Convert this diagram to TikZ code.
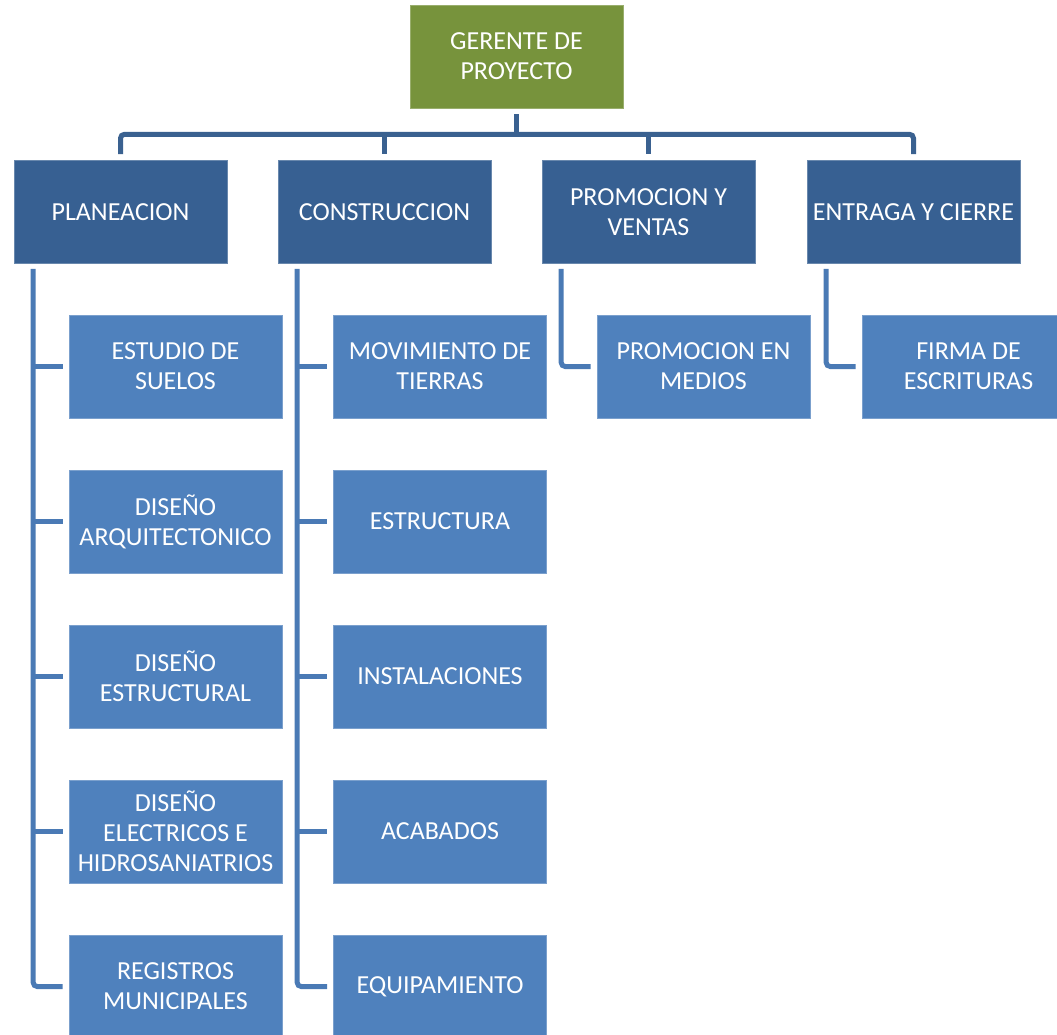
\documentclass[tikz,border=0pt]{standalone}
\usepackage{fontspec}
\setmainfont{Carlito}
\definecolor{gboss}{HTML}{77933C}
\definecolor{dblue}{HTML}{376092}
\definecolor{lblue}{HTML}{4F81BD}
\definecolor{busc}{HTML}{3A6190}
\definecolor{connc}{HTML}{4A7AB5}
\tikzset{
  boxbase/.style={rectangle, minimum width=213pt, minimum height=103pt, inner sep=2pt,
    align=center, text=white, font=\fontsize{26}{30}\selectfont},
  bossbox/.style={boxbase, fill=gboss, draw=gboss!75!white, line width=0.6pt},
  headbox/.style={boxbase, fill=dblue, draw=dblue!75!white, line width=0.6pt},
  itembox/.style={boxbase, fill=lblue, draw=lblue!75!white, line width=0.6pt},
  busline/.style={draw=busc, line width=5pt},
  connline/.style={draw=connc, line width=5pt},
}
\begin{document}
\begin{tikzpicture}[x=1pt,y=-1pt]
\clip (0,0) rectangle (1057,1035);
\fill[white] (0,0) rectangle (1057,1035);
% top
\node[bossbox] (top) at (516.5,56.5) {GERENTE DE\\PROYECTO};
% level 2
\node[headbox] (plan) at (120.5,212) {PLANEACION};
\node[headbox] (cons) at (384.5,212) {CONSTRUCCION};
\node[headbox] (prom) at (648.5,212) {PROMOCION Y\\VENTAS};
\node[headbox] (entr) at (913.5,212) {ENTRAGA Y CIERRE};
% planeacion children
\node[itembox] (p1) at (175.5,366.5) {ESTUDIO DE\\SUELOS};
\node[itembox] (p2) at (175.5,521.5) {DISEÑO\\ARQUITECTONICO};
\node[itembox] (p3) at (175.5,676.5) {DISEÑO\\ESTRUCTURAL};
\node[itembox] (p4) at (175.5,831.5) {DISEÑO\\ELECTRICOS E\\HIDROSANIATRIOS};
\node[itembox] (p5) at (175.5,986.5) {REGISTROS\\MUNICIPALES};
% construccion children
\node[itembox] (c1) at (440,366.5) {MOVIMIENTO DE\\TIERRAS};
\node[itembox] (c2) at (440,521.5) {ESTRUCTURA};
\node[itembox] (c3) at (440,676.5) {INSTALACIONES};
\node[itembox] (c4) at (440,831.5) {ACABADOS};
\node[itembox] (c5) at (440,986.5) {EQUIPAMIENTO};
% promocion child
\node[itembox] (m1) at (703.5,366.5) {PROMOCION EN\\MEDIOS};
% entrega child
\node[itembox] (f1) at (968.5,366.5) {FIRMA DE\\ESCRITURAS};
% bus
\coordinate (bus) at ([yshift=-26pt]top.south);
\draw[busline] ([yshift=-6pt]top.south) -- (bus);
\draw[busline, rounded corners=4pt] ([yshift=6pt]plan.north) |- (bus) -| ([yshift=6pt]entr.north);
\draw[busline] (bus -| cons.north) -- ([yshift=6pt]cons.north);
\draw[busline] (bus -| prom.north) -- ([yshift=6pt]prom.north);
% vertical stems
\coordinate (pv) at ([xshift=19.5pt,yshift=-5pt]plan.south west);
\coordinate (cv) at ([xshift=19.5pt,yshift=-5pt]cons.south west);
\coordinate (mv) at ([xshift=19.5pt,yshift=-5pt]prom.south west);
\coordinate (fv) at ([xshift=19.5pt,yshift=-5pt]entr.south west);
\draw[connline, rounded corners=4pt] (pv) |- ([xshift=-6pt]p5.west);
\foreach \n in {p1,p2,p3,p4}{\draw[connline] (pv |- \n.west) -- ([xshift=-6pt]\n.west);}
\draw[connline, rounded corners=4pt] (cv) |- ([xshift=-6pt]c5.west);
\foreach \n in {c1,c2,c3,c4}{\draw[connline] (cv |- \n.west) -- ([xshift=-6pt]\n.west);}
\draw[connline, rounded corners=4pt] (mv) |- ([xshift=-6pt]m1.west);
\draw[connline, rounded corners=4pt] (fv) |- ([xshift=-6pt]f1.west);
\end{tikzpicture}
\end{document}
